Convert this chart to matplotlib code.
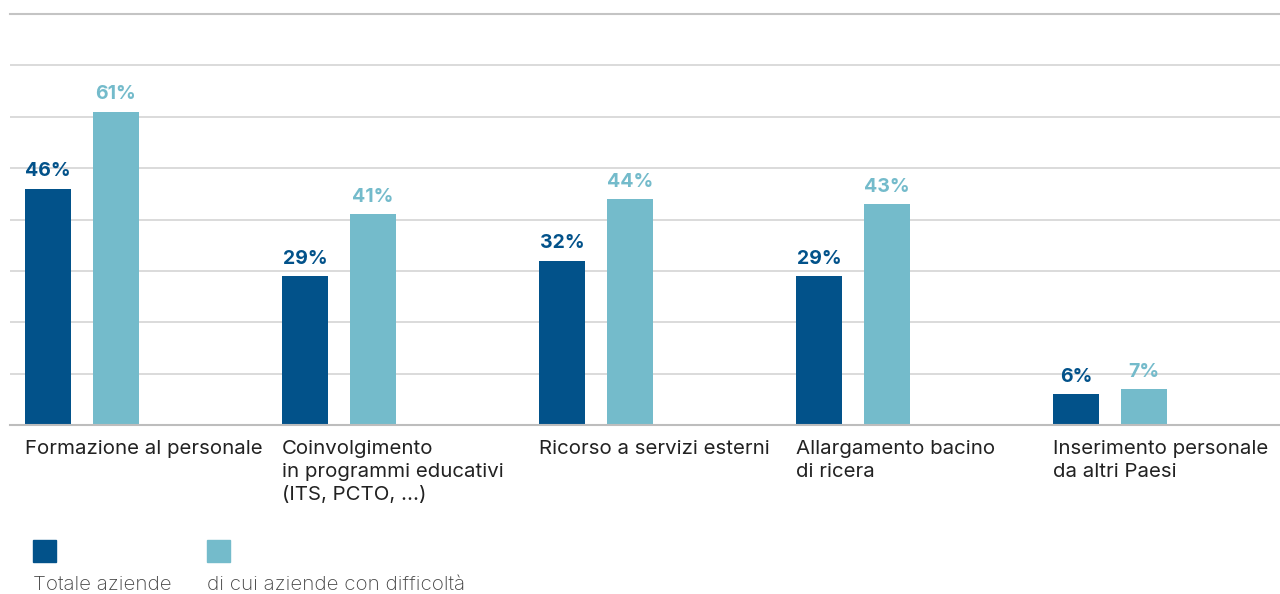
import matplotlib.pyplot as plt
import matplotlib.patches as mpatches
import numpy as np

# Data
categories = ['Formazione al personale',
              'Coinvolgimento\nin programmi educativi\n(ITS, PCTO, ...)',
              'Ricorso a servizi esterni',
              'Allargamento bacino\ndi ricera',
              'Inserimento personale\nda altri Paesi']
totale = [46, 29, 32, 29, 6]
difficolta = [61, 41, 44, 43, 7]
series_names = ['Totale aziende', 'di cui aziende con difficoltà']

dark = '#02528a'
light = '#74bbcb'
plt.rcParams['font.family'] = ['Inter', 'DejaVu Sans']

fig = plt.figure(figsize=(12.8, 5.94), dpi=100)
ax = fig.add_axes([10 / 1280, 1 - 425 / 594, 1270 / 1280, (425 - 14) / 594])

x = np.arange(len(categories))
w = 46 / 257
off = 68 / 257

ax.bar(x, totale, width=w, color=dark, zorder=3)
ax.bar(x + off, difficolta, width=w, color=light, zorder=3)

for xi, v in zip(x, totale):
    ax.text(xi, v + 1.6, f'{v}%', ha='center', va='bottom', fontsize=14,
            fontweight='bold', color=dark)
for xi, v in zip(x, difficolta):
    ax.text(xi + off, v + 1.6, f'{v}%', ha='center', va='bottom', fontsize=14,
            fontweight='bold', color=light)

for xi, lab in zip(x, categories):
    ax.text(xi - w / 2, -3.0, lab, ha='left', va='top', fontsize=14.7,
            color='#222222', linespacing=1.36)

ax.set_xlim(-38 / 257, -38 / 257 + 1270 / 257)
ax.set_ylim(0, 80)
ax.set_yticks(np.arange(0, 71, 10))
ax.grid(axis='y', color='#d4d4d4', lw=1.2, zorder=0)
ax.axhline(80, color='#c4c4c4', lw=1.5, zorder=4, clip_on=False)
ax.axhline(0, color='#bdbdbd', lw=1.5, zorder=4, clip_on=False)
ax.tick_params(left=False, bottom=False, labelleft=False, labelbottom=False)
for s in ax.spines.values():
    s.set_visible(False)

# Legend
for px, col, name in [(33, dark, series_names[0]), (207, light, series_names[1])]:
    fig.patches.append(mpatches.Rectangle((px / 1280, 1 - 562 / 594), 23 / 1280, 22 / 594,
                                          transform=fig.transFigure, color=col))
    fig.text(px / 1280, 1 - 585 / 594, name, ha='left', va='center', fontsize=14.8,
             fontweight='light', color='#444444')

fig.savefig('out.png', dpi=100)
